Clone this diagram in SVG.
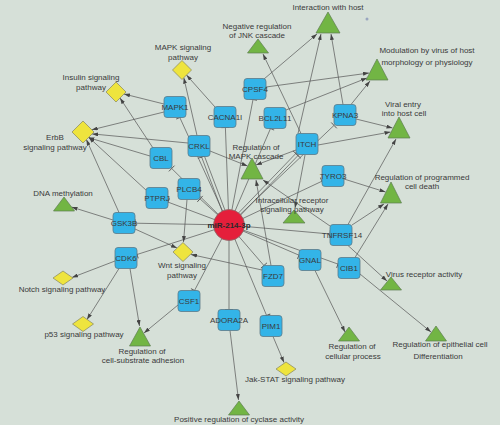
<svg xmlns="http://www.w3.org/2000/svg" width="500" height="425" viewBox="0 0 500 425">
<style>
.e{stroke:#555;stroke-width:0.7;fill:none}
.act{marker-end:url(#arr)}
.inh{marker-end:url(#tee)}
.gene rect{fill:#33b4e8;stroke:#5c7a88;stroke-width:0.8}
.pw polygon{fill:#eee43e;stroke:#858560;stroke-width:0.7}
.go polygon{fill:#72b544;stroke:#5d7d50;stroke-width:0.7}
text{font-family:"Liberation Sans",Arial,sans-serif;font-size:8px;fill:#3a3a3a;text-anchor:middle}
.mir circle{fill:#e51f3b;stroke:#8a6a6a;stroke-width:0.8}
.mir text{font-weight:bold;fill:#2a2a2a}
</style>
<defs>
<marker id="arr" viewBox="0 0 6 4" refX="6" refY="2" markerWidth="6" markerHeight="4" markerUnits="userSpaceOnUse" orient="auto"><path d="M0,0L6,2L0,4z" fill="#444"/></marker>
<marker id="tee" viewBox="-1 -5 2 10" refX="0" refY="0" markerWidth="2" markerHeight="10" markerUnits="userSpaceOnUse" orient="auto"><path d="M0,-4V4" stroke="#555" stroke-width="0.9"/></marker>
</defs>
<rect width="500" height="425" fill="#d6e0d8"/>
<circle cx="367" cy="19" r="1.5" fill="#9aa6c0"/>
<g id="edges">
<line class="e inh" x1="229" y1="225" x2="179.8" y2="117.5"/>
<line class="e inh" x1="229" y1="225" x2="225.4" y2="127.5"/>
<line class="e inh" x1="229" y1="225" x2="253" y2="99.5"/>
<line class="e inh" x1="229" y1="225" x2="270.5" y2="128.5"/>
<line class="e inh" x1="230.1" y1="226" x2="298" y2="155.5"/>
<line class="e inh" x1="227.9" y1="224" x2="295.8" y2="153.5"/>
<line class="e inh" x1="229" y1="225" x2="334" y2="125.4"/>
<line class="e inh" x1="230.4" y1="224.5" x2="204.4" y2="156"/>
<line class="e inh" x1="227.6" y1="225.5" x2="201.6" y2="157"/>
<line class="e inh" x1="229" y1="225" x2="171.7" y2="168.5"/>
<line class="e inh" x1="229" y1="225" x2="200" y2="198.9"/>
<line class="e inh" x1="229" y1="225" x2="168" y2="202.1"/>
<line class="e inh" x1="229" y1="225" x2="135" y2="223.2"/>
<line class="e inh" x1="229" y1="225" x2="137" y2="254.5"/>
<line class="e inh" x1="229" y1="225" x2="194.5" y2="290.5"/>
<line class="e inh" x1="229" y1="225" x2="229" y2="309.5"/>
<line class="e inh" x1="229" y1="225" x2="266.6" y2="315.5"/>
<line class="e inh" x1="229" y1="225" x2="263.9" y2="265.5"/>
<line class="e inh" x1="229" y1="225" x2="299" y2="255.2"/>
<line class="e inh" x1="229" y1="225" x2="338" y2="264.1"/>
<line class="e inh" x1="229" y1="225" x2="330" y2="234"/>
<line class="e inh" x1="229" y1="225" x2="322" y2="181.2"/>
<line class="e act" x1="164" y1="104" x2="124" y2="94"/>
<line class="e act" x1="164" y1="112" x2="91.8" y2="129.8"/>
<line class="e act" x1="188" y1="143" x2="92.1" y2="133.9"/>
<line class="e act" x1="150" y1="156" x2="88.4" y2="137.6"/>
<line class="e act" x1="147" y1="191" x2="88.7" y2="137.3"/>
<line class="e act" x1="119" y1="212.5" x2="86.4" y2="139.6"/>
<line class="e act" x1="153" y1="148" x2="120" y2="98"/>
<line class="e act" x1="197" y1="135.5" x2="183.8" y2="77.7"/>
<line class="e act" x1="215" y1="107" x2="186.5" y2="75"/>
<line class="e act" x1="210" y1="151" x2="247.5" y2="166"/>
<line class="e act" x1="296" y1="150" x2="256" y2="165"/>
<line class="e act" x1="271" y1="265.5" x2="256" y2="180"/>
<line class="e act" x1="330" y1="226" x2="263" y2="180"/>
<line class="e act" x1="305" y1="155" x2="295" y2="208"/>
<line class="e act" x1="301" y1="133.5" x2="263" y2="54"/>
<line class="e act" x1="298" y1="133.5" x2="321" y2="34"/>
<line class="e act" x1="264" y1="79" x2="317" y2="34"/>
<line class="e act" x1="343" y1="104.5" x2="331" y2="34"/>
<line class="e act" x1="266" y1="87" x2="369" y2="73"/>
<line class="e act" x1="286" y1="110" x2="367" y2="78"/>
<line class="e act" x1="351" y1="104.5" x2="370" y2="81"/>
<line class="e act" x1="356" y1="119" x2="392.5" y2="128"/>
<line class="e act" x1="318" y1="145" x2="390.5" y2="132"/>
<line class="e act" x1="348" y1="224.5" x2="396" y2="139"/>
<line class="e act" x1="344" y1="179" x2="385.5" y2="192"/>
<line class="e act" x1="352" y1="225" x2="384" y2="204"/>
<line class="e act" x1="355" y1="257.5" x2="388" y2="204"/>
<line class="e act" x1="348" y1="245.5" x2="387" y2="281"/>
<line class="e act" x1="360" y1="274" x2="431" y2="332"/>
<line class="e act" x1="315" y1="270.5" x2="345" y2="332"/>
<line class="e act" x1="113" y1="220" x2="71.5" y2="207"/>
<line class="e act" x1="135" y1="229" x2="177" y2="248"/>
<line class="e act" x1="187" y1="199.5" x2="183.5" y2="242"/>
<line class="e act" x1="262" y1="270" x2="191" y2="254.5"/>
<line class="e act" x1="115" y1="261" x2="72" y2="277.5"/>
<line class="e act" x1="119" y1="268.5" x2="87" y2="319.5"/>
<line class="e act" x1="130" y1="268.5" x2="139.5" y2="326"/>
<line class="e act" x1="178" y1="305" x2="144" y2="333"/>
<line class="e act" x1="273" y1="336.5" x2="284" y2="362.5"/>
<line class="e act" x1="230" y1="330.5" x2="238.5" y2="400"/>
</g>
<g id="n-MAPKsig" class="pw"><polygon points="182,60.5 191.5,70 182,79.5 172.5,70"/><text x="183" y="50">MAPK signaling</text><text x="183" y="60">pathway</text></g>
<g id="n-Insulin" class="pw"><polygon points="116,82 126,92 116,102 106,92"/><text x="91" y="80">Insulin signaling</text><text x="91" y="90">pathway</text></g>
<g id="n-ErbB" class="pw"><polygon points="83,121 94,132 83,143 72,132"/><text x="55" y="140">ErbB</text><text x="55" y="150">signaling pathway</text></g>
<g id="n-Wnt" class="pw"><polygon points="183,242.5 193,252 183,261.5 173,252"/><text x="182" y="268">Wnt signaling</text><text x="182" y="278">pathway</text></g>
<g id="n-Notch" class="pw"><polygon points="63,271 73,278 63,285 53,278"/><text x="62" y="292">Notch signaling pathway</text></g>
<g id="n-p53" class="pw"><polygon points="83,316.5 93.5,324 83,331.5 72.5,324"/><text x="84" y="337">p53 signaling pathway</text></g>
<g id="n-JakSTAT" class="pw"><polygon points="286,362 296,369 286,376 276,369"/><text x="295" y="382">Jak-STAT signaling pathway</text></g>
<g id="n-IntHost" class="go"><polygon points="328,12 340,33 316,33"/><text x="328" y="10">Interaction with host</text></g>
<g id="n-NegJNK" class="go"><polygon points="258,39 268.5,53 247.5,53"/><text x="257" y="29">Negative regulation</text><text x="257" y="38">of JNK cascade</text></g>
<g id="n-Modul" class="go"><polygon points="377,59 388,80 366,80"/><text x="427" y="53">Modulation by virus of host</text><text x="427" y="65">morphology or physiology</text></g>
<g id="n-Viral" class="go"><polygon points="399,117 410,138 388,138"/><text x="403" y="107">Viral entry</text><text x="404" y="116">into host cell</text></g>
<g id="n-RegMAPK" class="go"><polygon points="252,158 263,179 241,179"/><text x="256" y="150">Regulation of</text><text x="256" y="159">MAPK cascade</text></g>
<g id="n-Intra" class="go"><polygon points="294,210 305,223 283,223"/><text x="292" y="203">Intracellular receptor</text><text x="292" y="212">signaling pathway</text></g>
<g id="n-ProgDeath" class="go"><polygon points="391,182 401.5,203 380.5,203"/><text x="422" y="180">Regulation of programmed</text><text x="422" y="189">cell death</text></g>
<g id="n-VirusRec" class="go"><polygon points="391,277 401.5,290 380.5,290"/><text x="424" y="277">Virus receptor activity</text></g>
<g id="n-DNA" class="go"><polygon points="64,197 74.5,211 53.5,211"/><text x="63" y="196">DNA methylation</text></g>
<g id="n-CellSub" class="go"><polygon points="140,327 150.5,346 129.5,346"/><text x="142" y="354">Regulation of</text><text x="143" y="363">cell-substrate adhesion</text></g>
<g id="n-Cyclase" class="go"><polygon points="239,401 249.5,415 228.5,415"/><text x="239" y="422">Positive regulation of cyclase activity</text></g>
<g id="n-CellProc" class="go"><polygon points="349,327 359.5,341 338.5,341"/><text x="352" y="349">Regulation of</text><text x="353" y="359">cellular process</text></g>
<g id="n-Epith" class="go"><polygon points="436,326 446.5,341 425.5,341"/><text x="440" y="347">Regulation of epithelial cell</text><text x="438" y="359">Differentiation</text></g>
<g id="n-MAPK1" class="gene"><rect x="164" y="96.5" width="22" height="21" rx="3"/><text x="175" y="110">MAPK1</text></g>
<g id="n-CACNA1I" class="gene"><rect x="214" y="106.5" width="22" height="21" rx="3"/><text x="225" y="120">CACNA1I</text></g>
<g id="n-CPSF4" class="gene"><rect x="244" y="78.5" width="22" height="21" rx="3"/><text x="255" y="92">CPSF4</text></g>
<g id="n-BCL2L11" class="gene"><rect x="264" y="107.5" width="22" height="21" rx="3"/><text x="275" y="121">BCL2L11</text></g>
<g id="n-ITCH" class="gene"><rect x="296" y="133.5" width="22" height="21" rx="3"/><text x="307" y="147">ITCH</text></g>
<g id="n-KPNA3" class="gene"><rect x="334" y="104.5" width="22" height="21" rx="3"/><text x="345" y="118">KPNA3</text></g>
<g id="n-CRKL" class="gene"><rect x="188" y="135.5" width="22" height="21" rx="3"/><text x="199" y="149">CRKL</text></g>
<g id="n-CBL" class="gene"><rect x="150" y="147.5" width="22" height="21" rx="3"/><text x="161" y="161">CBL</text></g>
<g id="n-PLCB4" class="gene"><rect x="178" y="178.5" width="22" height="21" rx="3"/><text x="189" y="192">PLCB4</text></g>
<g id="n-PTPRJ" class="gene"><rect x="146" y="187.5" width="22" height="21" rx="3"/><text x="157" y="201">PTPRJ</text></g>
<g id="n-GSK3B" class="gene"><rect x="113" y="212.5" width="22" height="21" rx="3"/><text x="124" y="226">GSK3B</text></g>
<g id="n-CDK6" class="gene"><rect x="115" y="247.5" width="22" height="21" rx="3"/><text x="126" y="261">CDK6</text></g>
<g id="n-CSF1" class="gene"><rect x="178" y="290.5" width="22" height="21" rx="3"/><text x="189" y="304">CSF1</text></g>
<g id="n-ADORA2A" class="gene"><rect x="218" y="309.5" width="22" height="21" rx="3"/><text x="229" y="323">ADORA2A</text></g>
<g id="n-PIM1" class="gene"><rect x="260" y="315.5" width="22" height="21" rx="3"/><text x="271" y="329">PIM1</text></g>
<g id="n-FZD7" class="gene"><rect x="262" y="265.5" width="22" height="21" rx="3"/><text x="273" y="279">FZD7</text></g>
<g id="n-GNAL" class="gene"><rect x="299" y="249.5" width="22" height="21" rx="3"/><text x="310" y="263">GNAL</text></g>
<g id="n-CIB1" class="gene"><rect x="338" y="257.5" width="22" height="21" rx="3"/><text x="349" y="271">CIB1</text></g>
<g id="n-TNFRSF14" class="gene"><rect x="330" y="224.5" width="22" height="21" rx="3"/><text x="342" y="238">TNFRSF14</text></g>
<g id="n-TYRO3" class="gene"><rect x="322" y="165.5" width="22" height="21" rx="3"/><text x="333" y="179">TYRO3</text></g>
<g id="n-miR" class="mir"><circle cx="229" cy="225" r="15.5"/><text x="229" y="228">miR-214-3p</text></g>
</svg>
